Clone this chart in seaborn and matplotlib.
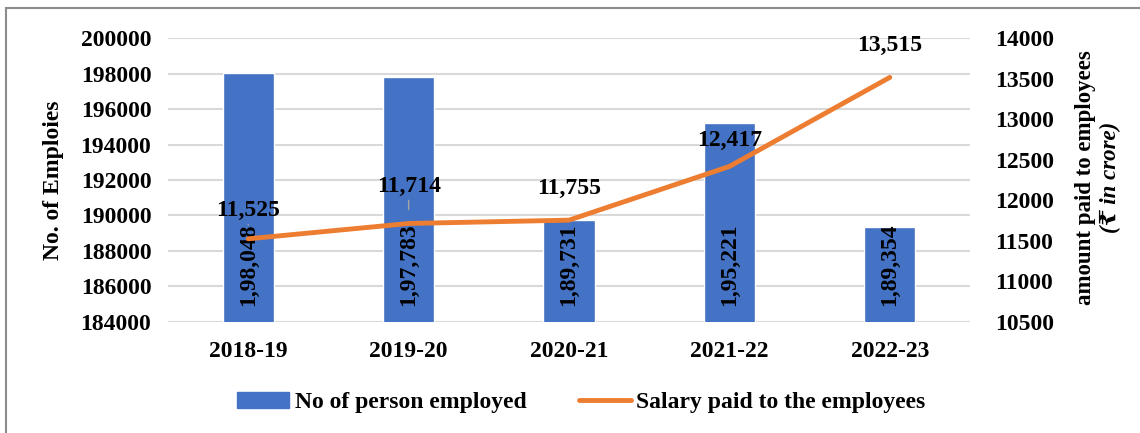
import numpy as np
import pandas as pd
import matplotlib
matplotlib.use("Agg")
import matplotlib.pyplot as plt
import seaborn as sns
from matplotlib.patches import Rectangle, Patch
from matplotlib.lines import Line2D

years = ["2018-19", "2019-20", "2020-21", "2021-22", "2022-23"]
employees = [198048, 197783, 189731, 195221, 189354]
salary = [11525, 11714, 11755, 12417, 13515]

BLUE = "#4472C4"
ORANGE = "#ED7D31"


def indian(n):
    # 198048 -> 1,98,048
    s = str(n)
    head, tail = s[:-3], s[-3:]
    parts = []
    while len(head) > 2:
        parts.insert(0, head[-2:])
        head = head[:-2]
    if head:
        parts.insert(0, head)
    return ",".join(parts + [tail])


sns.set_style("white")
plt.rcParams["font.family"] = ["Liberation Serif", "DejaVu Serif"]
plt.rcParams["font.weight"] = "bold"
plt.rcParams["text.color"] = "black"
plt.rcParams["xtick.color"] = "black"
plt.rcParams["ytick.color"] = "black"
plt.rcParams["axes.labelcolor"] = "black"

fig = plt.figure(figsize=(11.4, 4.33), dpi=100)
ax = fig.add_axes([0.1474, 0.2564, 0.7035, 0.6558])

df = pd.DataFrame({"year": years, "emp": employees, "sal": salary})
sns.barplot(data=df, x="year", y="emp", color=BLUE, width=0.32, saturation=1, ax=ax)
ax.set_ylim(184000, 200000)
ax.set_yticks(np.arange(184000, 200001, 2000))
ax.yaxis.grid(True, color="#D9D9D9", lw=1.5)
ax.set_axisbelow(True)
for s in ax.spines.values():
    s.set_visible(False)
ax.tick_params(length=0, labelsize=17, pad=12)
ax.tick_params(axis="x", pad=14)
ax.set_xlabel("")
ax.set_ylabel("No. of Emploies", fontsize=17, fontweight="bold", labelpad=12)

for i, v in enumerate(employees):
    ax.annotate(indian(v), (i, 184000), xytext=(0, 16), textcoords="offset pixels",
                rotation=90, ha="center", va="bottom", fontsize=17, fontweight="bold")

ax2 = ax.twinx()
sns.lineplot(x=np.arange(len(years)), y=salary, color=ORANGE, lw=3.5, ax=ax2)
ax2.set_ylim(10500, 14000)
ax2.set_yticks(np.arange(10500, 14001, 500))
for s in ax2.spines.values():
    s.set_visible(False)
ax2.tick_params(length=0, labelsize=17, pad=18)
ax2.set_ylabel("")
ax.set_xlim(-0.5, len(years) - 0.5)

lab_dy = [28, 37, 32, 26, 32]
for i, v in enumerate(salary):
    props = dict(arrowstyle="-", color="#A6A6A6", lw=1, shrinkA=0, shrinkB=10) if i < 2 else None
    ax2.annotate(f"{v:,}", (i, v), xytext=(0, lab_dy[i]), textcoords="offset pixels",
                 ha="center", va="center", fontsize=17, fontweight="bold",
                 arrowprops=props)

fig.text(0.952, 0.59, "amount paid to employees", rotation=90, ha="center", va="center",
         fontsize=16.5, fontweight="bold")
fig.text(0.974, 0.59, "(\u20b9 in crore)", rotation=90, ha="center", va="center",
         fontsize=16.5, fontweight="bold", style="italic")

handles = [Patch(color=BLUE), Line2D([], [], color=ORANGE, lw=3.5)]
fig.legend(handles, ["No of person employed", "Salary paid to the employees"],
           loc="center", bbox_to_anchor=(0.51, 0.07), ncol=2, frameon=False,
           fontsize=17, handlelength=2.2, handletextpad=0.25, columnspacing=2.2)

fig.patches.append(Rectangle((6 / 1140, -0.05), 1.2, 1 - 8 / 433 + 0.05,
                             transform=fig.transFigure, fill=False,
                             edgecolor="#8C8C8C", lw=1.5))

fig.savefig("out.png", dpi=100)
